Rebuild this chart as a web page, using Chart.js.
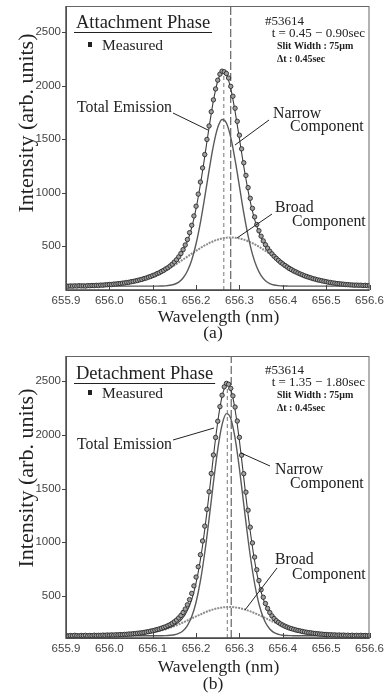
<!DOCTYPE html>
<html>
<head>
<meta charset="utf-8">
<script src="https://cdn.jsdelivr.net/npm/chart.js@4.4.1/dist/chart.umd.min.js"></script>
<style>
  html, body { margin: 0; padding: 0; background: #fff; }
  body { width: 384px; height: 694px; position: relative; overflow: hidden; }
  .panel { position: absolute; left: 0; width: 384px; }
  .panel canvas { display: block; }
  #panel-a { top: 0; height: 350px; }
  #panel-b { top: 350px; height: 344px; }
</style>
</head>
<body>
<div class="panel" id="panel-a"><canvas id="chart-a" width="384" height="350"></canvas></div>
<div class="panel" id="panel-b"><canvas id="chart-b" width="384" height="344"></canvas></div>

<script>
// Wavelength sampling of the measured spectrum (nm)
const WL_FINE = [
  655.900, 655.905, 655.910, 655.915, 655.920, 655.925, 655.930, 655.935, 655.940, 655.945,
  655.950, 655.955, 655.960, 655.965, 655.970, 655.975, 655.980, 655.985, 655.990, 655.995,
  656.000, 656.005, 656.010, 656.015, 656.020, 656.025, 656.030, 656.035, 656.040, 656.045,
  656.050, 656.055, 656.060, 656.065, 656.070, 656.075, 656.080, 656.085, 656.090, 656.095,
  656.100, 656.105, 656.110, 656.115, 656.120, 656.125, 656.130, 656.135, 656.140, 656.145,
  656.150, 656.155, 656.160, 656.165, 656.170, 656.175, 656.180, 656.185, 656.190, 656.195,
  656.200, 656.205, 656.210, 656.215, 656.220, 656.225, 656.230, 656.235, 656.240, 656.245,
  656.250, 656.255, 656.260, 656.265, 656.270, 656.275, 656.280, 656.285, 656.290, 656.295,
  656.300, 656.305, 656.310, 656.315, 656.320, 656.325, 656.330, 656.335, 656.340, 656.345,
  656.350, 656.355, 656.360, 656.365, 656.370, 656.375, 656.380, 656.385, 656.390, 656.395,
  656.400, 656.405, 656.410, 656.415, 656.420, 656.425, 656.430, 656.435, 656.440, 656.445,
  656.450, 656.455, 656.460, 656.465, 656.470, 656.475, 656.480, 656.485, 656.490, 656.495,
  656.500, 656.505, 656.510, 656.515, 656.520, 656.525, 656.530, 656.535, 656.540, 656.545,
  656.550, 656.555, 656.560, 656.565, 656.570, 656.575, 656.580, 656.585, 656.590, 656.595,
  656.600
];

// Wavelength sampling of the fitted components (nm)
const WL = [
  655.90, 655.91, 655.92, 655.93, 655.94, 655.95, 655.96, 655.97, 655.98, 655.99,
  656.00, 656.01, 656.02, 656.03, 656.04, 656.05, 656.06, 656.07, 656.08, 656.09,
  656.10, 656.11, 656.12, 656.13, 656.14, 656.15, 656.16, 656.17, 656.18, 656.19,
  656.20, 656.21, 656.22, 656.23, 656.24, 656.25, 656.26, 656.27, 656.28, 656.29,
  656.30, 656.31, 656.32, 656.33, 656.34, 656.35, 656.36, 656.37, 656.38, 656.39,
  656.40, 656.41, 656.42, 656.43, 656.44, 656.45, 656.46, 656.47, 656.48, 656.49,
  656.50, 656.51, 656.52, 656.53, 656.54, 656.55, 656.56, 656.57, 656.58, 656.59,
  656.60
];

const X_TICKS = [655.9, 656.0, 656.1, 656.2, 656.3, 656.4, 656.5, 656.6];
const Y_TICKS = [500, 1000, 1500, 2000, 2500];

// (a) Attachment phase
const Y_RANGE_A = [89, 2743];
const MEASURED_A = [
  128, 124, 127, 125, 128, 126, 129, 127, 128, 126,
  130, 129, 131, 130, 133, 131, 135, 134, 137, 138,
  141, 140, 144, 145, 148, 149, 153, 155, 159, 161,
  166, 169, 174, 178, 184, 188, 196, 201, 209, 215,
  224, 231, 242, 250, 262, 272, 286, 297, 313, 330,
  351, 372, 399, 430, 466, 510, 561, 625, 694, 781,
  872, 985, 1098, 1230, 1355, 1496, 1622, 1755, 1866, 1968,
  2050, 2106, 2134, 2128, 2112, 2070, 1992, 1900, 1788, 1665,
  1536, 1408, 1278, 1160, 1046, 946, 852, 772, 701, 643,
  592, 548, 512, 480, 451, 427, 404, 385, 366, 348,
  333, 318, 304, 290, 279, 267, 258, 248, 239, 231,
  222, 215, 208, 202, 195, 190, 184, 180, 175, 171,
  167, 162, 159, 155, 153, 149, 147, 145, 143, 140,
  139, 137, 136, 134, 135, 133, 134, 131, 133, 130,
  132
];
const TOTAL_A = [
  125, 125, 126, 126, 126, 126, 126, 126, 126, 127,
  127, 127, 128, 128, 129, 129, 130, 131, 132, 133,
  134, 135, 137, 139, 140, 143, 145, 148, 151, 154,
  157, 161, 166, 170, 175, 181, 187, 193, 200, 207,
  215, 224, 233, 242, 253, 264, 276, 289, 303, 320,
  338, 360, 385, 414, 449, 492, 543, 603, 674, 756,
  851, 958, 1076, 1202, 1336, 1474, 1608, 1738, 1858, 1960,
  2042, 2099, 2129, 2130, 2102, 2048, 1970, 1871, 1757, 1632,
  1504, 1372, 1245, 1126, 1015, 915, 826, 749, 683, 627,
  579, 540, 506, 477, 453, 431, 412, 394, 378, 363,
  348, 334, 321, 308, 296, 284, 273, 262, 252, 242,
  232, 223, 215, 207, 200, 193, 187, 181, 175, 170,
  166, 161, 157, 154, 151, 148, 145, 143, 141, 139,
  137, 135, 134, 133, 132, 131, 130, 129, 129, 128,
  128
];
const NARROW_A = [
  125, 125, 125, 125, 125, 125, 125, 125, 125, 125,
  125, 125, 125, 125, 125, 125, 125, 125, 125, 125,
  125, 125, 126, 128, 133, 143, 163, 201, 267, 370,
  521, 719, 956, 1207, 1438, 1607, 1683, 1650, 1515, 1304,
  1058, 810, 595, 424, 303, 223, 176, 149, 136, 130,
  127, 126, 125, 125, 125, 125, 125, 125, 125, 125,
  125, 125, 125, 125, 125, 125, 125, 125, 125, 125,
  125
];
const BROAD_A = [
  125, 125, 126, 126, 126, 127, 128, 129, 130, 132,
  134, 137, 140, 145, 151, 157, 166, 175, 187, 200,
  215, 232, 252, 273, 296, 320, 347, 373, 401, 429,
  455, 481, 505, 527, 545, 560, 571, 578, 580, 578,
  571, 560, 545, 527, 505, 481, 455, 429, 401, 373,
  347, 320, 296, 273, 252, 232, 215, 200, 187, 175,
  166, 157, 151, 145, 140, 137, 134, 132, 130, 129,
  128
];
// line centres: narrow component, broad component (nm) and how high each is drawn
const CENTERS_A = [656.264, 656.280];
const CENTER_TOPS_A = [2120, 2743];

// (b) Detachment phase
const Y_RANGE_B = [109, 2733];
const MEASURED_B = [
  133, 128, 132, 130, 134, 131, 129, 133, 131, 134,
  130, 133, 131, 135, 132, 134, 133, 136, 134, 137,
  135, 138, 136, 139, 138, 141, 140, 143, 143, 146,
  146, 149, 150, 153, 155, 158, 161, 165, 168, 173,
  177, 182, 188, 193, 200, 207, 214, 224, 233, 246,
  260, 276, 296, 318, 346, 378, 418, 466, 524, 594,
  676, 772, 884, 1012, 1150, 1306, 1470, 1640, 1812, 1975,
  2126, 2262, 2368, 2446, 2478, 2470, 2432, 2362, 2258, 2128,
  1976, 1810, 1638, 1466, 1298, 1140, 994, 862, 744, 644,
  558, 488, 430, 384, 346, 315, 290, 270, 254, 240,
  229, 219, 210, 202, 196, 190, 184, 179, 175, 170,
  166, 162, 159, 157, 153, 151, 149, 146, 145, 142,
  142, 139, 140, 137, 138, 135, 137, 134, 136, 133,
  135, 132, 135, 131, 134, 132, 134, 131, 133, 130,
  133
];
const TOTAL_B = [
  130, 130, 130, 130, 130, 130, 130, 130, 130, 130,
  130, 130, 130, 130, 130, 131, 131, 131, 131, 131,
  131, 132, 132, 132, 133, 133, 134, 135, 136, 137,
  138, 139, 141, 142, 144, 146, 149, 152, 155, 158,
  161, 165, 170, 175, 180, 186, 193, 200, 208, 217,
  229, 241, 257, 276, 300, 329, 366, 412, 469, 538,
  622, 722, 838, 970, 1118, 1278, 1449, 1625, 1799, 1968,
  2121, 2253, 2357, 2429, 2464, 2461, 2420, 2343, 2233, 2098,
  1943, 1774, 1599, 1425, 1257, 1100, 956, 828, 715, 619,
  539, 472, 418, 374, 338, 309, 286, 267, 252, 239,
  228, 218, 209, 202, 195, 188, 182, 177, 172, 167,
  163, 159, 156, 153, 150, 147, 145, 143, 141, 140,
  138, 137, 136, 135, 134, 134, 133, 133, 132, 132,
  132, 131, 131, 131, 131, 131, 130, 130, 130, 130,
  130
];
const NARROW_B = [
  130, 130, 130, 130, 130, 130, 130, 130, 130, 130,
  130, 130, 130, 130, 130, 130, 130, 130, 130, 130,
  130, 130, 130, 131, 134, 139, 151, 177, 225, 308,
  442, 640, 902, 1217, 1554, 1865, 2094, 2197, 2152, 1969,
  1685, 1352, 1023, 737, 513, 355, 253, 193, 159, 143,
  135, 132, 131, 130, 130, 130, 130, 130, 130, 130,
  130, 130, 130, 130, 130, 130, 130, 130, 130, 130,
  130
];
const BROAD_B = [
  130, 130, 130, 130, 130, 130, 130, 130, 130, 131,
  131, 132, 133, 134, 136, 138, 141, 144, 149, 155,
  161, 170, 180, 191, 205, 219, 236, 253, 272, 291,
  310, 328, 346, 362, 375, 386, 393, 397, 398, 394,
  388, 377, 364, 349, 332, 314, 295, 275, 257, 239,
  223, 207, 194, 182, 172, 163, 156, 150, 145, 141,
  138, 136, 134, 133, 132, 132, 131, 131, 130, 130,
  130
];
const CENTERS_B = [656.272, 656.281];
const CENTER_TOPS_B = [2470, 2733];

const SERIF = '"Liberation Serif", "Times New Roman", serif';
const SANS = '"Liberation Sans", Arial, sans-serif';
const INK = '#222';

/**
 * Pairs an x array with a y array into Chart.js {x, y} points
 */
function toPoints(xs, ys) {
  return xs.map((x, i) => ({ x, y: ys[i] }));
}

/**
 * Draws the frame, inward x ticks, outward y ticks, axis titles and all annotations
 */
const framePlugin = {
  id: 'frame',
  afterDraw(chart, args, opts) {
    const { ctx, chartArea: a, scales: { x, y } } = chart;
    ctx.save();

    // plot box
    ctx.strokeStyle = '#666';
    ctx.lineWidth = 1;
    ctx.strokeRect(a.left + 0.5, a.top + 0.5, a.right - a.left - 1, a.bottom - a.top);

    // heavier left and bottom axes
    ctx.strokeStyle = '#444';
    ctx.lineWidth = 1.4;
    ctx.beginPath();
    ctx.moveTo(a.left, a.top);
    ctx.lineTo(a.left, a.bottom);
    ctx.lineTo(a.right, a.bottom);
    ctx.stroke();

    // tick marks
    ctx.lineWidth = 1;
    ctx.beginPath();
    X_TICKS.forEach(v => {
      const px = Math.round(x.getPixelForValue(v)) + 0.5;
      ctx.moveTo(px, a.bottom);
      ctx.lineTo(px, a.bottom - 5);
    });
    Y_TICKS.forEach(v => {
      const py = Math.round(y.getPixelForValue(v)) + 0.5;
      ctx.moveTo(a.left - 4, py);
      ctx.lineTo(a.left, py);
    });
    ctx.stroke();

    ctx.fillStyle = INK;
    ctx.strokeStyle = INK;

    // axis titles
    ctx.textAlign = 'center';
    ctx.textBaseline = 'alphabetic';
    ctx.font = `17.5px ${SERIF}`;
    ctx.fillText('Wavelength (nm)', 218.5, opts.xTitleY);
    ctx.fillText(opts.panelLabel, 213, opts.panelLabelY);

    ctx.save();
    ctx.translate(33, opts.yTitleMid);
    ctx.rotate(-Math.PI / 2);
    ctx.font = `22px ${SERIF}`;
    ctx.fillText('Intensity (arb. units)', 0, 0);
    ctx.restore();

    // phase heading with underline
    ctx.textAlign = 'left';
    ctx.font = `18.5px ${SERIF}`;
    ctx.fillText(opts.phase, 76, opts.phaseY);
    const w = ctx.measureText(opts.phase).width;
    ctx.lineWidth = 1;
    ctx.beginPath();
    ctx.moveTo(74, opts.phaseY + 4.5);
    ctx.lineTo(78 + w, opts.phaseY + 4.5);
    ctx.stroke();

    // legend
    ctx.fillRect(88, opts.legendY - 8, 4, 5);
    ctx.font = `15.5px ${SERIF}`;
    ctx.fillText('Measured', 102, opts.legendY);

    // shot info
    ctx.font = `13px ${SERIF}`;
    ctx.fillText('#53614', 265, opts.infoY);
    ctx.textAlign = 'right';
    ctx.fillText(opts.timeText, 365, opts.infoY + 12);
    ctx.textAlign = 'left';
    ctx.font = `bold 10px ${SERIF}`;
    ctx.fillText('Slit Width : 75\u03bcm', 277, opts.infoY + 24);
    ctx.fillText('\u0394t : 0.45sec', 277, opts.infoY + 37);

    // curve labels and their pointers
    ctx.font = `15.8px ${SERIF}`;
    opts.labels.forEach(l => ctx.fillText(l.text, l.x, l.y));
    ctx.lineWidth = 1;
    ctx.beginPath();
    opts.pointers.forEach(p => {
      ctx.moveTo(p[0], p[1]);
      ctx.lineTo(p[2], p[3]);
    });
    ctx.stroke();

    ctx.restore();
  }
};

/**
 * Builds one spectrum panel
 */
function drawPanel(canvasId, p) {
  const ctx = document.getElementById(canvasId).getContext('2d');
  const canvasHeight = ctx.canvas.height;

  return new Chart(ctx, {
    type: 'line',
    data: {
      datasets: [
        {
          label: 'Measured',
          data: toPoints(WL_FINE, p.measured),
          showLine: false,
          pointStyle: 'circle',
          pointRadius: 2.2,
          pointBorderWidth: 0.9,
          pointBorderColor: '#2a2a2a',
          pointBackgroundColor: '#a0a0a0',
          order: 0
        },
        {
          label: 'Total Emission',
          data: toPoints(WL_FINE, p.total),
          borderColor: '#3c3c3c',
          borderWidth: 1.1,
          pointRadius: 0,
          cubicInterpolationMode: 'monotone',
          order: 1
        },
        {
          label: 'Narrow Component',
          data: toPoints(WL, p.narrow),
          borderColor: '#5a5a5a',
          borderWidth: 1.4,
          pointRadius: 0,
          cubicInterpolationMode: 'monotone',
          order: 2
        },
        {
          label: 'Broad Component',
          data: toPoints(WL, p.broad),
          borderColor: '#8c8c8c',
          borderWidth: 2,
          borderDash: [2, 1],
          pointRadius: 0,
          cubicInterpolationMode: 'monotone',
          order: 3
        },
        {
          label: 'Narrow centre',
          data: [{ x: p.centers[0], y: p.yRange[0] }, { x: p.centers[0], y: p.centerTops[0] }],
          borderColor: '#777',
          borderWidth: 1,
          borderDash: [4, 3],
          pointRadius: 0,
          order: 4
        },
        {
          label: 'Broad centre',
          data: [{ x: p.centers[1], y: p.yRange[0] }, { x: p.centers[1], y: p.centerTops[1] }],
          borderColor: '#444',
          borderWidth: 1,
          borderDash: [8, 3],
          pointRadius: 0,
          order: 4
        }
      ]
    },
    options: {
      responsive: false,
      animation: false,
      devicePixelRatio: 1,
      layout: { padding: { top: 6, right: 14.5, left: 0, bottom: 0 } },
      plugins: {
        legend: { display: false },
        tooltip: { enabled: false },
        frame: p.frame
      },
      scales: {
        x: {
          type: 'linear',
          min: 655.9,
          max: 656.6,
          grid: { display: false, drawTicks: false },
          border: { display: false },
          afterBuildTicks: scale => { scale.ticks = X_TICKS.map(v => ({ value: v })); },
          afterFit: scale => {
            scale.height = canvasHeight - p.plotBottom;
            scale.paddingLeft = 0;
            scale.paddingRight = 0;
          },
          ticks: {
            autoSkip: false,
            maxRotation: 0,
            padding: 4,
            color: '#444',
            font: { family: SANS, size: 11.5 },
            callback: v => v.toFixed(1)
          }
        },
        y: {
          type: 'linear',
          min: p.yRange[0],
          max: p.yRange[1],
          grid: { display: false, drawTicks: false },
          border: { display: false },
          afterBuildTicks: scale => { scale.ticks = Y_TICKS.map(v => ({ value: v })); },
          afterFit: scale => {
            scale.width = 66;
            scale.paddingTop = 0;
            scale.paddingBottom = 0;
          },
          ticks: {
            padding: 5,
            color: '#444',
            font: { family: SANS, size: 11.5 },
            callback: v => String(v)
          }
        }
      }
    },
    plugins: [framePlugin]
  });
}

drawPanel('chart-a', {
  measured: MEASURED_A,
  total: TOTAL_A,
  narrow: NARROW_A,
  broad: BROAD_A,
  centers: CENTERS_A,
  centerTops: CENTER_TOPS_A,
  yRange: Y_RANGE_A,
  plotBottom: 290,
  frame: {
    phase: 'Attachment Phase',
    phaseY: 28,
    legendY: 50,
    infoY: 25,
    timeText: 't = 0.45 \u2212 0.90sec',
    xTitleY: 322,
    panelLabel: '(a)',
    panelLabelY: 338,
    yTitleMid: 123,
    labels: [
      { text: 'Total Emission', x: 77, y: 112 },
      { text: 'Narrow', x: 273, y: 118 },
      { text: 'Component', x: 290, y: 131 },
      { text: 'Broad', x: 275, y: 212 },
      { text: 'Component', x: 292, y: 226 }
    ],
    pointers: [[173, 113, 208, 130], [269, 120, 235, 145], [272, 214, 237, 238]]
  }
});

drawPanel('chart-b', {
  measured: MEASURED_B,
  total: TOTAL_B,
  narrow: NARROW_B,
  broad: BROAD_B,
  centers: CENTERS_B,
  centerTops: CENTER_TOPS_B,
  yRange: Y_RANGE_B,
  plotBottom: 288,
  frame: {
    phase: 'Detachment Phase',
    phaseY: 29,
    legendY: 48,
    infoY: 24,
    timeText: 't = 1.35 \u2212 1.80sec',
    xTitleY: 322,
    panelLabel: '(b)',
    panelLabelY: 339,
    yTitleMid: 128,
    labels: [
      { text: 'Total Emission', x: 77, y: 99 },
      { text: 'Narrow', x: 275, y: 124 },
      { text: 'Component', x: 290, y: 138 },
      { text: 'Broad', x: 275, y: 214 },
      { text: 'Component', x: 292, y: 229 }
    ],
    pointers: [[173, 90, 214, 78], [270, 116, 241, 103], [277, 218, 245, 260]]
  }
});
</script>
</body>
</html>
